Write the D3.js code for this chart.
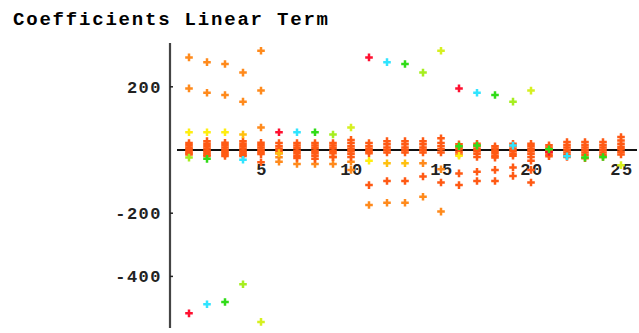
<!DOCTYPE html>
<html>
<head>
<meta charset="utf-8">
<script src="https://cdn.jsdelivr.net/npm/d3@7"></script>
<style>
  body { margin: 0; background: #fff; }
  svg { display: block; }
</style>
</head>
<body>
<div id="chart"></div>
<script>
// tick labels
const xTicks = [5, 10, 15, 20, 25];
const yTicks = [-400, -200, 200];

// [term index, coefficient] per colour
const redPts = [[1, -517], [6, 56], [11, 293], [16, 195], [21, -6]];
const cyanPts = [[2, -488], [7, 56], [12, 278], [17, 181], [4, -31], [19, 14], [22, -20]];
const greenPts = [[3, -481], [8, 56], [13, 272], [18, 174], [2, -28], [16, 12], [17, 14], [21, 2], [23, -24], [24, -22]];
const limePts = [[4, -425], [9, 49], [14, 245], [19, 153], [1, -24]];
const yellowLimePts = [[5, -544], [10, 71], [15, 314], [20, 188], [25, -48]];
const yellowPts = [[1, 56], [2, 56], [3, 56], [11, -34], [16, -18]];
const goldPts = [[12, -42], [13, -42], [4, 49], [6, -10]];
const orangePts = [
  [1, 293], [2, 278], [3, 272], [4, 245], [5, 314],
  [1, 195], [2, 181], [3, 174], [4, 153], [5, 188], [5, 71],
  [6, -23], [6, -37], [7, -44], [8, -44], [9, -22], [9, -44],
  [10, -37], [10, -63], [11, -174], [12, -167], [13, -167],
  [14, -42], [14, -148], [15, -61], [15, -195]
];
const redOrangePts = [
  [5, -39], [11, -111], [12, -98], [13, -98], [14, -84], [15, -103], [15, 37],
  [16, -74], [16, -111], [17, -69], [17, -98], [18, -63], [18, -98],
  [19, -55], [19, -82], [20, -63], [20, -103], [10, 32]
];

// small coefficients near zero, one list per term 1..25
const nearZero = [
  [22, 15, 8, 2, -4, -10, -14],
  [28, 20, 12, 5, -2, -9, -15, -19],
  [23, 15, 8, 1, -6, -13, -19],
  [28, 20, 12, 5, -2, -9, -15, -19],
  [23, 15, 8, 1, -6, -13],
  [22, 12, 4, -4, -10],
  [22, 14, 6, -2, -10, -18, -25],
  [22, 14, 6, -2, -10, -18, -28],
  [22, 14, 6, -2, -10, -22],
  [22, 12, 4, -4, -12, -22],
  [22, 12, 4, -4, -10],
  [28, 18, 8, 0, -8],
  [28, 18, 8, 0, -8],
  [28, 18, 8, 0, -8],
  [22, 12, 2, -8],
  [18, 10, 2, -6, -14],
  [20, 12, 4, -4, -12, -22],
  [12, 5, -2, -10, -18, -24],
  [20, 12, 4, -4, -12, -18],
  [20, 12, 4, -4, -12, -22, -34],
  [15, 8, 1, -6, -14, -20],
  [25, 16, 8, 0, -8, -16, -22],
  [25, 16, 8, 0, -8, -16, -26],
  [25, 16, 8, 0, -8, -16, -22],
  [41, 30, 20, 10, 2, -6, -14]
];

const width = 639, height = 333;
const mono = "Liberation Mono, DejaVu Sans Mono, monospace";

const svg = d3.select("#chart").append("svg")
  .attr("width", width)
  .attr("height", height);

const x = d3.scaleLinear().domain([0, 25]).range([171, 621]);
const y = d3.scaleLinear().domain([0, 200]).range([150, 86.8]);

svg.append("text")
  .attr("x", 13).attr("y", 25)
  .attr("font-family", mono)
  .attr("font-weight", "bold")
  .attr("font-size", 19)
  .attr("textLength", 315)
  .attr("lengthAdjust", "spacing")
  .text("Coefficients Linear Term");

// axes lines
svg.append("line")
  .attr("x1", 170).attr("x2", 170)
  .attr("y1", 43).attr("y2", 328)
  .attr("stroke", "#444").attr("stroke-width", 2.2);

svg.append("line")
  .attr("x1", 177).attr("x2", 637)
  .attr("y1", y(0)).attr("y2", y(0))
  .attr("stroke", "#111").attr("stroke-width", 1.8);

// y ticks
const yg = svg.append("g");
yg.selectAll("line").data(yTicks).join("line")
  .attr("x1", 170).attr("x2", 173)
  .attr("y1", d => y(d)).attr("y2", d => y(d))
  .attr("stroke", "#222").attr("stroke-width", 1.5);
yg.selectAll("text").data(yTicks).join("text")
  .attr("x", 162).attr("y", d => y(d) + 6)
  .attr("text-anchor", "end")
  .attr("font-family", mono)
  .attr("font-weight", "bold")
  .attr("font-size", 17)
  .attr("letter-spacing", 1.5)
  .attr("fill", "#222")
  .text(d => d);

// x tick labels
svg.append("g").selectAll("text").data(xTicks).join("text")
  .attr("x", d => x(d) + 1)
  .attr("y", 175)
  .attr("text-anchor", "middle")
  .attr("font-family", mono)
  .attr("font-weight", "bold")
  .attr("font-size", 17)
  .attr("letter-spacing", 1.5)
  .attr("fill", "#222")
  .text(d => d);

const cross = "M-3.8,0H3.8M0,-3.8V3.8";

function drawPts(pts, color) {
  svg.append("g").selectAll("path").data(pts).join("path")
    .attr("d", cross)
    .attr("transform", d => `translate(${x(d[0])},${y(d[1])})`)
    .attr("stroke", color)
    .attr("stroke-width", 2.5)
    .attr("fill", "none");
}

const zeroPts = nearZero.flatMap((vals, i) => vals.map(v => [i + 1, v]));

drawPts(orangePts, "#ff8a1c");
drawPts(zeroPts, "#ff5a14");
drawPts(redOrangePts, "#ff5a14");
drawPts(goldPts, "#ffc010");
drawPts(yellowPts, "#ffee10");
drawPts(redPts, "#ff1030");
drawPts(cyanPts, "#30e4ff");
drawPts(greenPts, "#30dc18");
drawPts(limePts, "#a6ee20");
drawPts(yellowLimePts, "#d6f020");
</script>
</body>
</html>
